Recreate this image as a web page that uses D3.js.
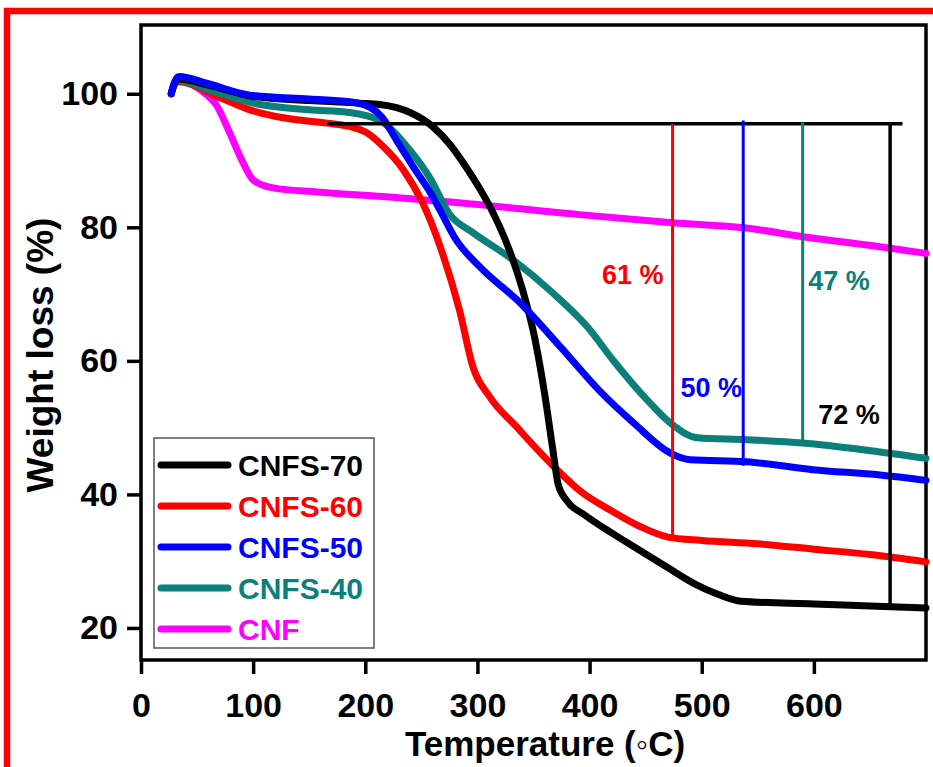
<!DOCTYPE html>
<html>
<head>
<meta charset="utf-8">
<script src="https://cdn.jsdelivr.net/npm/d3@7"></script>
<style>
  html, body { margin: 0; padding: 0; background: #fff; }
  svg { display: block; }
  text { font-family: "Liberation Sans", Arial, sans-serif; font-weight: bold; }
</style>
</head>
<body>
<svg id="chart" width="933" height="767"></svg>
<script>
// ===== DADOS =====

const xTicks = [0, 100, 200, 300, 400, 500, 600];
const yTicks = [20, 40, 60, 80, 100];

// [temperatura, peso %]
const cnfs70 = [
  [27, 100], [30, 101.6], [34, 102.2], [60, 101.3], [100, 99.6], [150, 99.0],
  [195, 98.6], [213, 98.4], [240, 97.2], [260, 95.1], [276, 92.3], [290, 89],
  [302, 85.8], [315, 81.8], [328, 76.8], [340, 70.8], [351, 63.5], [360, 55],
  [367, 47], [372, 41.5], [380, 39], [395, 37], [420, 34.2], [445, 31.6],
  [470, 29], [495, 26.5], [515, 25], [535, 24], [600, 23.6], [650, 23.3], [700, 23]
];

const cnfs60 = [
  [27, 100], [30, 101.4], [34, 101.8], [68, 99.6], [97, 97.6], [127, 96.4],
  [166, 95.6], [186, 95.1], [201, 94.2], [216, 92.1], [234, 88.6], [251, 83.7],
  [267, 77], [284, 67.6], [296, 59.1], [311, 54.6], [335, 50.1],
  [365, 44.7], [394, 40.2], [420, 37.5], [445, 35.2], [470, 33.6], [500, 33.1],
  [550, 32.6], [600, 31.8], [650, 31], [700, 29.9]
];

const cnfs50 = [
  [27, 100], [30, 101.8], [34, 102.6], [60, 101.5], [97, 99.8], [150, 99.2],
  [186, 98.8], [204, 98], [215, 96.5], [228, 93], [245, 88.5], [258, 85.2],
  [270, 81.5], [280, 78.4], [302, 74.1], [338, 68.7], [374, 62.1], [409, 55.5],
  [440, 50.6], [472, 46.2], [490, 45.2], [540, 44.9], [599, 43.7],
  [659, 42.9], [700, 42.1]
];

const cnfs40 = [
  [27, 100], [30, 101.5], [34, 102], [60, 100.6], [100, 98.6], [150, 97.6],
  [186, 97.2], [213, 96], [240, 91.5], [258, 87.3], [275, 82], [296, 79.2],
  [332, 75.1], [367, 70.2], [398, 65.1], [421, 60.1], [451, 54.2], [472, 50.7],
  [496, 48.5], [540, 48.2], [590, 47.7], [644, 46.7], [700, 45.4]
];

const cnf = [
  [27, 100.2], [30, 101.6], [33, 102.1], [53, 100.6], [68, 98.1], [79, 94.2],
  [91, 89.7], [100, 87.1], [118, 85.9], [157, 85.3], [216, 84.6], [276, 83.8],
  [391, 81.9], [474, 80.7], [540, 79.9], [590, 78.6], [659, 77.1], [700, 76.1]
];

const seriesNames = ["CNFS-70", "CNFS-60", "CNFS-50", "CNFS-40", "CNF"];
const seriesColors = ["#000000", "#ff0000", "#0000ff", "#0b7f7a", "#ff00ff"];
const seriesData = [cnfs70, cnfs60, cnfs50, cnfs40, cnf];
const drawOrder = [4, 1, 3, 0, 2];

// linhas de referência
const lossLevel = 95.5;
const lossLevelRange = [166, 679];
const lossMarkers = [
  { name: "CNFS-60", t: 474, top: 95.5, bottom: 33.4, color: "#ff0000" },
  { name: "CNFS-50", t: 537, top: 96, bottom: 44.3, color: "#0000ff" },
  { name: "CNFS-40", t: 590, top: 95.7, bottom: 47.7, color: "#0b7f7a" },
  { name: "CNFS-70", t: 668, top: 95.5, bottom: 23.2, color: "#000000" }
];
const lossLabels = [
  { text: "61 %", t: 411, w: 72.9, color: "#ff0000" },
  { text: "50 %", t: 481, w: 56, color: "#0000ff" },
  { text: "47 %", t: 595, w: 72.1, color: "#0b7f7a" },
  { text: "72 %", t: 604, w: 51.9, color: "#000000" }
];

// ===== CONFIGURAÇÃO =====

const margin = { top: 25, right: 7, bottom: 107, left: 141 };
const width = 933 - margin.left - margin.right;
const height = 767 - margin.top - margin.bottom;

const svg = d3.select("#chart");

// moldura vermelha
svg.append("rect")
  .attr("x", 7)
  .attr("y", 11)
  .attr("width", 1000)
  .attr("height", 1000)
  .attr("fill", "none")
  .attr("stroke", "#ff0000")
  .attr("stroke-width", 6.5);

const g = svg.append("g")
  .attr("transform", `translate(${margin.left},${margin.top})`);

const x = d3.scaleLinear().domain([0, 700]).range([0, width]);
const y = d3.scaleLinear().domain([15.2, 110.3]).range([height, 0]);

// ===== EIXOS =====

const xAxis = g.append("g")
  .attr("transform", `translate(0,${height})`)
  .call(d3.axisBottom(x).tickValues(xTicks).tickSize(14).tickPadding(12));

const yAxis = g.append("g")
  .call(d3.axisLeft(y).tickValues(yTicks).tickSize(14).tickPadding(9));

[xAxis, yAxis].forEach(a => {
  a.select(".domain").remove();
  a.selectAll(".tick line").attr("stroke", "#000").attr("stroke-width", 3.5);
  a.selectAll(".tick text")
    .attr("fill", "#000")
    .style("font-size", "34px");
});
xAxis.selectAll(".tick text").attr("dy", "0.9em");

// caixa do gráfico
g.append("rect")
  .attr("width", width)
  .attr("height", height)
  .attr("fill", "none")
  .attr("stroke", "#000")
  .attr("stroke-width", 3.5);

svg.append("text")
  .attr("x", 545)
  .attr("y", 756)
  .attr("text-anchor", "middle")
  .style("font-size", "35px")
  .text("Temperature (\u25E6C)");

svg.append("text")
  .attr("transform", "translate(53,355) rotate(-90)")
  .attr("text-anchor", "middle")
  .style("font-size", "37px")
  .text("Weight loss (%)");

// ===== CURVAS =====

const line = d3.line()
  .x(d => x(d[0]))
  .y(d => y(d[1]))
  .curve(d3.curveMonotoneX);

drawOrder.forEach(i => {
  g.append("path")
    .datum(seriesData[i])
    .attr("fill", "none")
    .attr("stroke", seriesColors[i])
    .attr("stroke-width", 7)
    .attr("stroke-linejoin", "round")
    .attr("stroke-linecap", "round")
    .attr("d", line);
});

// ===== MARCADORES DE PERDA =====

g.append("line")
  .attr("x1", x(lossLevelRange[0]))
  .attr("x2", x(lossLevelRange[1]))
  .attr("y1", y(lossLevel))
  .attr("y2", y(lossLevel))
  .attr("stroke", "#000")
  .attr("stroke-width", 3.5);

lossMarkers.forEach(m => {
  g.append("line")
    .attr("x1", x(m.t))
    .attr("x2", x(m.t))
    .attr("y1", y(m.top))
    .attr("y2", y(m.bottom))
    .attr("stroke", m.color)
    .attr("stroke-width", m.color === "#000000" ? 3.5 : 3);
});

lossLabels.forEach(l => {
  g.append("text")
    .attr("x", x(l.t))
    .attr("y", y(l.w))
    .attr("dy", "0.35em")
    .attr("fill", l.color)
    .style("font-size", "27px")
    .text(l.text);
});

// ===== LEGENDA =====

const legend = svg.append("g").attr("transform", "translate(154,438)");

legend.append("rect")
  .attr("width", 220)
  .attr("height", 210)
  .attr("fill", "#fff")
  .attr("stroke", "#555")
  .attr("stroke-width", 1.5);

seriesNames.forEach((name, i) => {
  const row = legend.append("g").attr("transform", `translate(0,${27 + i * 41})`);
  row.append("line")
    .attr("x1", 7)
    .attr("x2", 74)
    .attr("stroke", seriesColors[i])
    .attr("stroke-width", 7)
    .attr("stroke-linecap", "round");
  row.append("text")
    .attr("x", 84)
    .attr("dy", "0.36em")
    .attr("fill", seriesColors[i])
    .style("font-size", "30px")
    .text(name);
});
</script>
</body>
</html>
